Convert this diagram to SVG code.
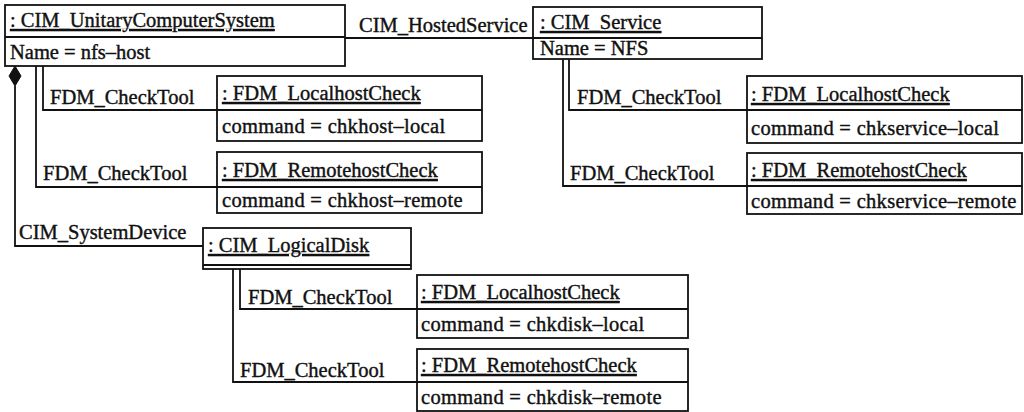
<svg xmlns="http://www.w3.org/2000/svg" width="1024" height="412" viewBox="0 0 1024 412">
  <style>
    text { font-family: "Liberation Serif", "Times New Roman", serif; font-size: 20.5px; fill: #111; stroke: #111; stroke-width: 0.4px; }
    .obj rect { fill: #fff; stroke: #111; stroke-width: 1.8; }
    .obj line { stroke: #111; stroke-width: 1.8; }
    .name { text-decoration: underline; }
    .cmd { letter-spacing: 0.3px; }
    .conn path { fill: none; stroke: #111; stroke-width: 1.8; }
    .diamond { fill: #111; stroke: #111; stroke-width: 1; }
  </style>
  <rect width="1024" height="412" fill="#fff"/>

  <!-- connectors -->
  <g id="connectors" class="conn">
    <path d="M345,38 H533"/>
    <!-- host check tools -->
    <path d="M43,66 V110 H217"/>
    <path d="M36,66 V187 H217"/>
    <!-- service check tools -->
    <path d="M569,59 V110 H747"/>
    <path d="M563,59 V186 H747"/>
    <!-- system device composition -->
    <path d="M15,86 V246 H203"/>
    <polygon class="diamond" points="15,66 21,76 15,86 9,76"/>
    <!-- disk check tools -->
    <path d="M240,269 V309 H417"/>
    <path d="M233,269 V382 H417"/>
    <text x="359" y="32">CIM_HostedService</text>
    <text x="50" y="104">FDM_CheckTool</text>
    <text x="43" y="180">FDM_CheckTool</text>
    <text x="577" y="104">FDM_CheckTool</text>
    <text x="570" y="180">FDM_CheckTool</text>
    <text x="19" y="239">CIM_SystemDevice</text>
    <text x="248" y="304">FDM_CheckTool</text>
    <text x="240" y="377">FDM_CheckTool</text>
  </g>

  <g id="host" class="obj">
    <rect x="5" y="5" width="340" height="61"/>
    <line x1="5" y1="37" x2="345" y2="37"/>
    <text class="name" x="10" y="27">: CIM_UnitaryComputerSystem</text>
    <text x="10" y="59">Name = nfs–host</text>
  </g>

  <g id="service" class="obj">
    <rect x="533" y="7" width="229" height="52"/>
    <line x1="533" y1="38" x2="762" y2="38"/>
    <text class="name" x="540" y="29">: CIM_Service</text>
    <text x="540" y="55">Name = NFS</text>
  </g>

  <g id="host-local" class="obj">
    <rect x="217" y="76" width="265" height="65"/>
    <line x1="217" y1="110" x2="482" y2="110"/>
    <text class="name" x="222" y="100">: FDM_LocalhostCheck</text>
    <text class="cmd" x="222" y="133">command = chkhost–local</text>
  </g>

  <g id="host-remote" class="obj">
    <rect x="217" y="152" width="265" height="61"/>
    <line x1="217" y1="187" x2="482" y2="187"/>
    <text class="name" x="222" y="177">: FDM_RemotehostCheck</text>
    <text class="cmd" x="222" y="207">command = chkhost–remote</text>
  </g>

  <g id="service-local" class="obj">
    <rect x="747" y="76" width="275" height="67"/>
    <line x1="747" y1="110" x2="1022" y2="110"/>
    <text class="name" x="751" y="101">: FDM_LocalhostCheck</text>
    <text class="cmd" x="751" y="135">command = chkservice–local</text>
  </g>

  <g id="service-remote" class="obj">
    <rect x="747" y="153" width="275" height="61"/>
    <line x1="747" y1="186" x2="1022" y2="186"/>
    <text class="name" x="751" y="177">: FDM_RemotehostCheck</text>
    <text class="cmd" x="751" y="208">command = chkservice–remote</text>
  </g>

  <g id="disk" class="obj">
    <rect x="203" y="228" width="208" height="41"/>
    <line x1="203" y1="265" x2="411" y2="265"/>
    <text class="name" x="208" y="252">: CIM_LogicalDisk</text>
  </g>

  <g id="disk-local" class="obj">
    <rect x="417" y="275" width="271" height="63"/>
    <line x1="417" y1="309" x2="688" y2="309"/>
    <text class="name" x="421" y="299">: FDM_LocalhostCheck</text>
    <text class="cmd" x="421" y="331">command = chkdisk–local</text>
  </g>

  <g id="disk-remote" class="obj">
    <rect x="417" y="349" width="271" height="62"/>
    <line x1="417" y1="382" x2="688" y2="382"/>
    <text class="name" x="421" y="372">: FDM_RemotehostCheck</text>
    <text class="cmd" x="421" y="404">command = chkdisk–remote</text>
  </g>
</svg>
